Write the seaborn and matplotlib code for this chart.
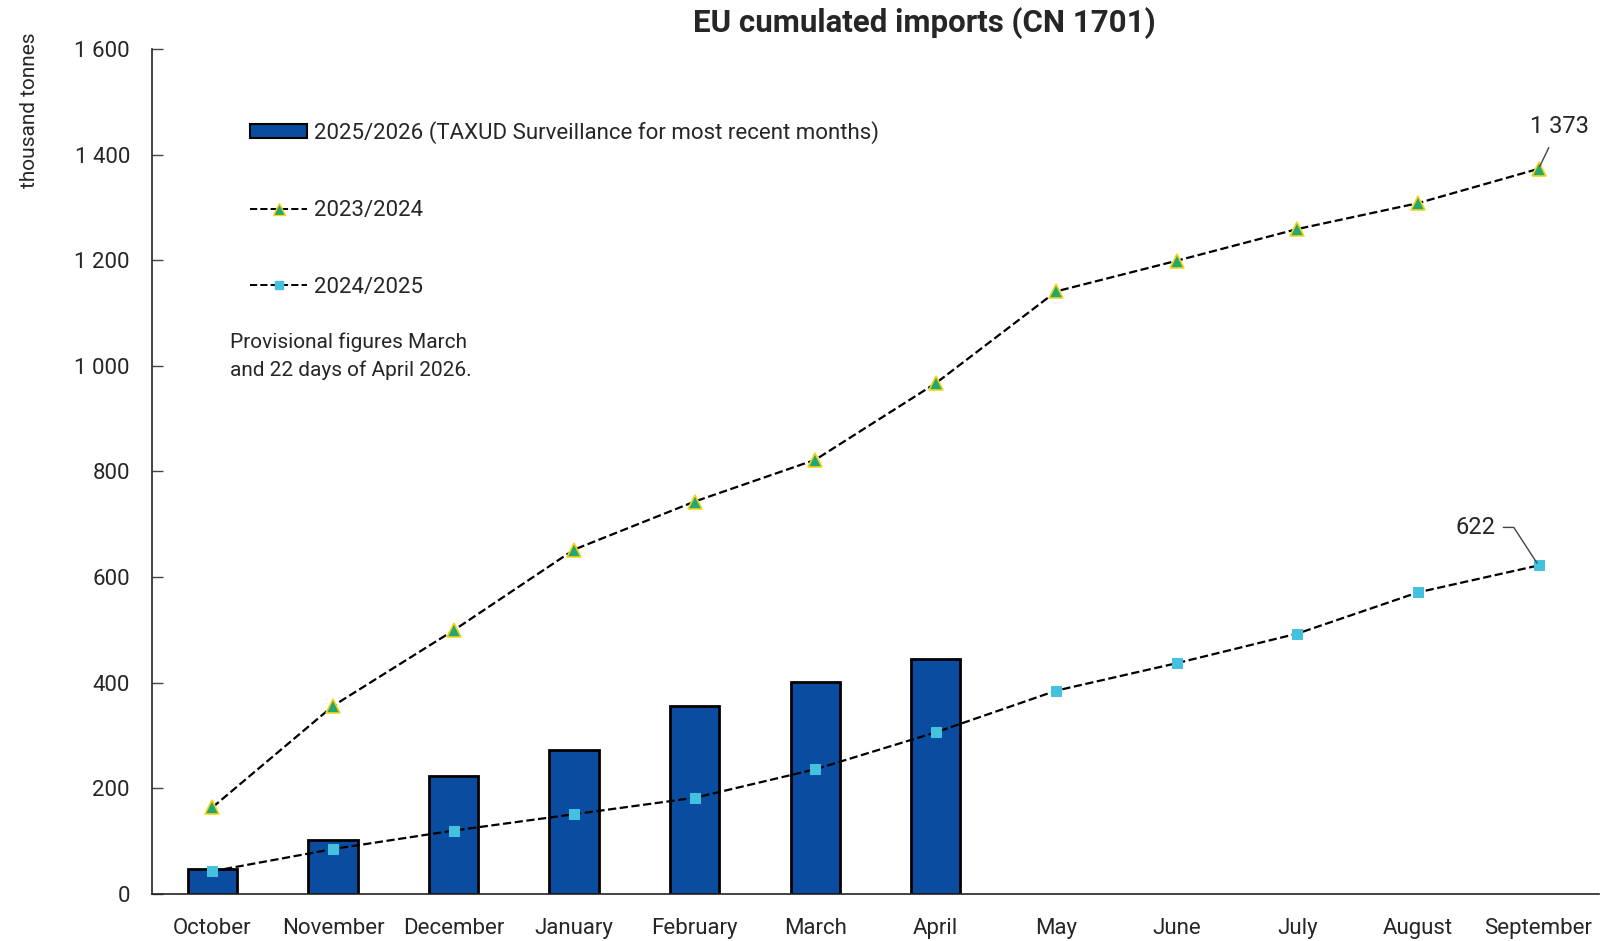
"""
EU cumulated imports (CN 1701) - recreated chart
"""
import numpy as np
import pandas as pd
import matplotlib
matplotlib.use('Agg')
import matplotlib.pyplot as plt
import matplotlib.ticker as mticker
import seaborn as sns

# ── DATA ───────────────────────────────────────────────────────
months = ['October', 'November', 'December', 'January', 'February', 'March',
          'April', 'May', 'June', 'July', 'August', 'September']
imports_2526 = [48, 103, 224, 273, 356, 402, 445]   # Oct..Apr
imports_2324 = [164, 356, 499, 652, 743, 822, 967, 1141, 1199, 1259, 1308, 1373]
imports_2425 = [43, 85, 120, 151, 182, 236, 306, 385, 437, 493, 571, 622]

label_2526 = '2025/2026 (TAXUD Surveillance for most recent months)'
label_2324 = '2023/2024'
label_2425 = '2024/2025'
note = 'Provisional figures March\nand 22 days of April 2026.'

BAR_COLOR = '#0A4DA0'
TRI_COLOR = '#23A872'
TRI_EDGE = '#F5D31A'
SQ_COLOR = '#45C1E0'

sns.set_style('white')
plt.rcParams['font.family'] = ['Roboto', 'DejaVu Sans']

fig = plt.figure(figsize=(16.02, 9.41), dpi=100)
ax = fig.add_axes([0.095, 0.05, 0.903, 0.898])

df_bar = pd.DataFrame({'month': months[:len(imports_2526)], 'value': imports_2526})
sns.barplot(data=df_bar, x='month', y='value', order=months, color=BAR_COLOR,
            saturation=1, width=0.41, edgecolor='black', linewidth=2, ax=ax)

pos = np.arange(len(months))
sns.lineplot(x=pos, y=imports_2324, color='black', linestyle='--', linewidth=1.6,
             marker='^', markersize=10, markerfacecolor=TRI_COLOR,
             markeredgecolor=TRI_EDGE, markeredgewidth=1.2, ax=ax)
sns.lineplot(x=pos, y=imports_2425, color='black', linestyle='--', linewidth=1.6,
             marker='s', markersize=7, markerfacecolor=SQ_COLOR,
             markeredgecolor=SQ_COLOR, ax=ax)

# ── AXES ──────────────────────────────────────────────────────
ax.set_xlim(-0.5, len(months) - 0.5)
ax.set_ylim(0, 1600)
ax.yaxis.set_major_locator(mticker.MultipleLocator(200))
ax.yaxis.set_major_formatter(mticker.FuncFormatter(lambda v, p: f'{int(v):,}'.replace(',', ' ')))
ax.set_xticks(pos)
ax.set_xticklabels(months)
ax.set_xticks(pos[:-1] + 0.5, minor=True)
ax.tick_params(axis='x', which='major', length=0, labelsize=16, pad=17)
ax.tick_params(axis='x', which='minor', direction='in', length=8, width=1, color='#444444')
ax.tick_params(axis='y', direction='in', length=8, width=1, labelsize=16, pad=16,
               left=True, color='#444444')
ax.set_xlabel('')
ax.set_ylabel('thousand tonnes', fontsize=15)
ax.yaxis.set_label_coords(-0.078, 0.927)
for s in ['top', 'right']:
    ax.spines[s].set_visible(False)
for s in ['left', 'bottom']:
    ax.spines[s].set_color('#222222')
    ax.spines[s].set_linewidth(1.2)

fig.text(0.577, 0.976, 'EU cumulated imports (CN 1701)', fontsize=22.5, fontweight='bold',
         ha='center', va='center')

# ── LEGEND ────────────────────────────────────────────────────
bar_handle = plt.Rectangle((0, 0), 1, 1, facecolor=BAR_COLOR, edgecolor='black', linewidth=1.5)
tri_handle = plt.Line2D([], [], color='black', linestyle='--', linewidth=1.4, marker='^',
                        markersize=8, markerfacecolor=TRI_COLOR, markeredgecolor=TRI_EDGE)
sq_handle = plt.Line2D([], [], color='black', linestyle='--', linewidth=1.4, marker='s',
                       markersize=6, markerfacecolor=SQ_COLOR, markeredgecolor=SQ_COLOR)
ax.legend([bar_handle, tri_handle, sq_handle], [label_2526, label_2324, label_2425],
          loc='upper left', bbox_to_anchor=(0.054, 0.938), frameon=False, fontsize=16,
          handlelength=2.55, handletextpad=0.3, labelspacing=2.51, handleheight=0.6)

ax.text(0.054, 0.665, note, transform=ax.transAxes, fontsize=15, va='top', linespacing=1.55)

# ── END LABELS ────────────────────────────────────────────────
ax.annotate(f'{imports_2324[-1]:,}'.replace(',', ' '), xy=(pos[-1], imports_2324[-1]),
            xytext=(pos[-1] + 0.17, imports_2324[-1] + 80), fontsize=17, ha='center',
            va='center', arrowprops=dict(arrowstyle='-', color='#444444', lw=1,
                                         shrinkA=5, shrinkB=2))
ax.annotate(str(imports_2425[-1]), xy=(pos[-1], imports_2425[-1]),
            xytext=(pos[-1] - 0.52, imports_2425[-1] + 72), fontsize=17, ha='center',
            va='center', arrowprops=dict(arrowstyle='-', color='#444444', lw=1,
                                         shrinkA=3, shrinkB=2,
                                         connectionstyle='angle,angleA=0,angleB=123,rad=0'))

fig.savefig('out.png', dpi=100)
